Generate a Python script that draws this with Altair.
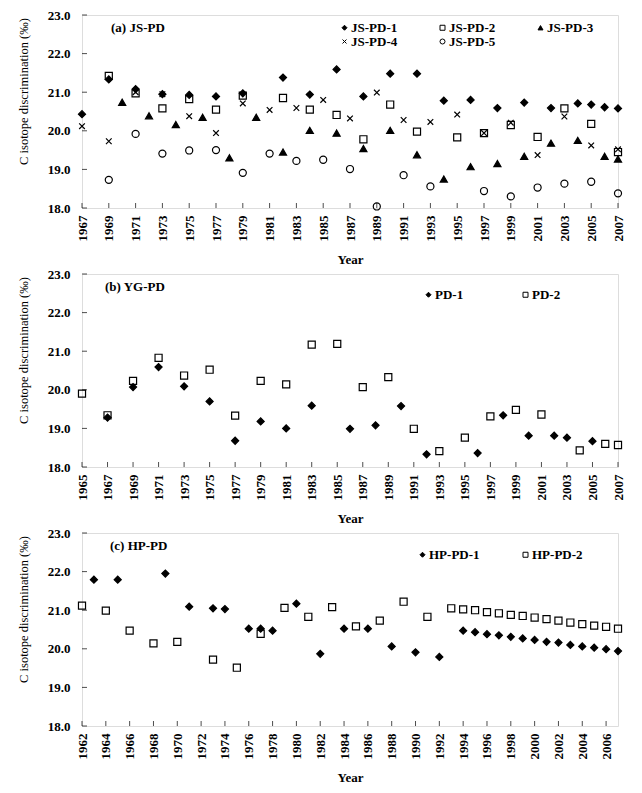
import altair as alt
import pandas as pd

# ---------------- Panel (a) JS-PD ----------------
js1_years = [1967, 1969, 1971, 1973, 1975, 1977, 1979, 1982, 1984, 1986, 1988, 1990, 1992, 1994, 1996, 1998, 2000, 2002, 2004, 2005, 2006, 2007]
js1_vals = [20.43, 21.33, 21.08, 20.95, 20.93, 20.89, 20.97, 21.38, 20.94, 21.59, 20.89, 21.48, 21.48, 20.78, 20.80, 20.59, 20.73, 20.59, 20.71, 20.68, 20.61, 20.58]
js2_years = [1969, 1971, 1973, 1975, 1977, 1979, 1982, 1984, 1986, 1988, 1990, 1992, 1995, 1997, 1999, 2001, 2003, 2005, 2007]
js2_vals = [21.42, 20.97, 20.58, 20.82, 20.55, 20.91, 20.85, 20.55, 20.41, 19.78, 20.68, 19.98, 19.83, 19.94, 20.15, 19.84, 20.58, 20.18, 19.45]
js3_years = [1970, 1972, 1974, 1976, 1978, 1980, 1982, 1984, 1986, 1988, 1990, 1992, 1994, 1996, 1998, 2000, 2002, 2004, 2006, 2007]
js3_vals = [20.74, 20.39, 20.16, 20.35, 19.30, 20.35, 19.45, 20.01, 19.94, 19.54, 20.01, 19.38, 18.75, 19.07, 19.15, 19.34, 19.68, 19.75, 19.34, 19.27]
js4_years = [1967, 1969, 1971, 1973, 1975, 1977, 1979, 1981, 1983, 1985, 1987, 1989, 1991, 1993, 1995, 1997, 1999, 2001, 2003, 2005, 2007]
js4_vals = [20.12, 19.73, 21.00, 20.95, 20.38, 19.94, 20.71, 20.54, 20.59, 20.80, 20.32, 20.99, 20.28, 20.23, 20.42, 19.94, 20.21, 19.37, 20.37, 19.62, 19.52]
js5_years = [1969, 1971, 1973, 1975, 1977, 1979, 1981, 1983, 1985, 1987, 1989, 1991, 1993, 1997, 1999, 2001, 2003, 2005, 2007]
js5_vals = [18.73, 19.92, 19.41, 19.49, 19.50, 18.91, 19.41, 19.22, 19.25, 19.01, 18.04, 18.85, 18.56, 18.44, 18.30, 18.53, 18.63, 18.68, 18.38]

# ---------------- Panel (b) YG-PD ----------------
pd1_years = [1967, 1969, 1971, 1973, 1975, 1977, 1979, 1981, 1983, 1986, 1988, 1990, 1992, 1996, 1998, 2000, 2002, 2003, 2005]
pd1_vals = [19.28, 20.07, 20.59, 20.09, 19.70, 18.68, 19.18, 19.00, 19.59, 18.99, 19.08, 19.58, 18.33, 18.36, 19.34, 18.81, 18.81, 18.76, 18.67]
pd2_years = [1965, 1967, 1969, 1971, 1973, 1975, 1977, 1979, 1981, 1983, 1985, 1987, 1989, 1991, 1993, 1995, 1997, 1999, 2001, 2004, 2006, 2007]
pd2_vals = [19.90, 19.34, 20.23, 20.83, 20.37, 20.52, 19.33, 20.23, 20.14, 21.17, 21.19, 20.07, 20.33, 18.99, 18.41, 18.76, 19.31, 19.48, 19.36, 18.43, 18.60, 18.57]

# ---------------- Panel (c) HP-PD ----------------
hp1_years = [1963, 1965, 1969, 1971, 1973, 1974, 1976, 1977, 1978, 1980, 1982, 1984, 1986, 1988, 1990, 1992,
             1994, 1995, 1996, 1997, 1998, 1999, 2000, 2001, 2002, 2003, 2004, 2005, 2006, 2007]
hp1_vals = [21.79, 21.79, 21.95, 21.09, 21.05, 21.03, 20.52, 20.52, 20.47, 21.17, 19.87, 20.52, 20.52, 20.06, 19.91, 19.79,
            20.47, 20.43, 20.38, 20.35, 20.31, 20.27, 20.23, 20.18, 20.16, 20.10, 20.06, 20.03, 19.99, 19.94]
hp2_years = [1962, 1964, 1966, 1968, 1970, 1973, 1975, 1977, 1979, 1981, 1983, 1985, 1987, 1989, 1991,
             1993, 1994, 1995, 1996, 1997, 1998, 1999, 2000, 2001, 2002, 2003, 2004, 2005, 2006, 2007]
hp2_vals = [21.12, 20.99, 20.47, 20.14, 20.18, 19.72, 19.51, 20.39, 21.06, 20.83, 21.08, 20.58, 20.73, 21.22, 20.83,
            21.05, 21.02, 21.00, 20.95, 20.92, 20.88, 20.85, 20.81, 20.77, 20.73, 20.68, 20.64, 20.60, 20.57, 20.52]

y_ticks = [18, 19, 20, 21, 22, 23]
xticks_a = list(range(1967, 2008, 2))
xticks_b = list(range(1965, 2008, 2))
xticks_c = list(range(1962, 2007, 2))

FONT = "Liberation Serif"
W, H = 536, 193
XSHAPE = "M-0.8,-0.8L0.8,0.8M-0.8,0.8L0.8,-0.8"


def long_df(series):
    rows = []
    for name, ys, vs in series:
        for y, v in zip(ys, vs):
            rows.append({"series": name, "year": y, "value": v})
    return pd.DataFrame(rows)


def panel(series, shapes, fills, xdomain, xticks, label, label_x, leg_x, leg_y, leg_cols, col_pad):
    df = long_df(series)
    names = [s[0] for s in series]
    xenc = alt.X("year:Q",
                 scale=alt.Scale(domain=xdomain, nice=False, zero=False),
                 axis=alt.Axis(values=xticks, format="d", labelAngle=270, labelAlign="right",
                               labelBaseline="middle", title="Year", tickSize=0, domain=False,
                               grid=False, labelPadding=7, titlePadding=12,
                               labelFont=FONT, labelFontSize=13, labelFontWeight="bold", labelColor="black",
                               titleFont=FONT, titleFontSize=13, titleFontWeight="bold", titleColor="black"))
    yenc = alt.Y("value:Q",
                 scale=alt.Scale(domain=[18, 23], nice=False, zero=False),
                 axis=alt.Axis(values=y_ticks, format=".1f", title="C isotope discrimination (‰)",
                               tickSize=0, domain=False, grid=False, labelPadding=12,
                               titleX=-52, titleY=76,
                               labelFont=FONT, labelFontSize=13, labelFontWeight="bold", labelColor="black",
                               titleFont=FONT, titleFontSize=12.5, titleFontWeight="normal", titleColor="black"))
    leg = alt.Legend(orient="none", legendX=leg_x, legendY=leg_y, columns=leg_cols,
                     direction="horizontal", title=None, symbolSize=25,
                     symbolStrokeColor="black", symbolStrokeWidth=1,
                     labelFont=FONT, labelFontSize=13, labelFontWeight="bold", labelColor="black",
                     columnPadding=col_pad, rowPadding=0, symbolOffset=0, labelOffset=0)
    pts = alt.Chart(df).mark_point(filled=True, size=50, strokeWidth=1.2, opacity=1).encode(
        x=xenc, y=yenc,
        shape=alt.Shape("series:N", scale=alt.Scale(domain=names, range=shapes), legend=leg),
        fill=alt.Fill("series:N", scale=alt.Scale(domain=names, range=fills), legend=leg),
        stroke=alt.Stroke("series:N", scale=alt.Scale(domain=names, range=["black"] * len(names)), legend=leg),
    )
    xt = alt.Chart(pd.DataFrame({"year": xticks})).mark_tick(
        color="black", thickness=1, size=5, orient="vertical").encode(x=xenc, y=alt.value(H - 2.5))
    yt = alt.Chart(pd.DataFrame({"value": y_ticks})).mark_tick(
        color="black", thickness=1, size=5, orient="horizontal").encode(y=yenc, x=alt.value(2.5))
    txt = alt.Chart(pd.DataFrame({"t": [label]})).mark_text(
        align="left", baseline="middle", font=FONT, fontSize=13, fontWeight="bold", color="black"
    ).encode(text="t:N", x=alt.value(label_x), y=alt.value(13))
    return alt.layer(pts, xt, yt, txt).properties(width=W, height=H)


pa = panel(
    [("JS-PD-1", js1_years, js1_vals), ("JS-PD-2", js2_years, js2_vals), ("JS-PD-3", js3_years, js3_vals),
     ("JS-PD-4", js4_years, js4_vals), ("JS-PD-5", js5_years, js5_vals)],
    ["diamond", "square", "triangle-up", XSHAPE, "circle"],
    ["black", "transparent", "black", "transparent", "transparent"],
    [1967, 2007], xticks_a, "(a) JS-PD", 29, 256, 6, 3, 38)

pb = panel(
    [("PD-1", pd1_years, pd1_vals), ("PD-2", pd2_years, pd2_vals)],
    ["diamond", "square"], ["black", "transparent"],
    [1965, 2007], xticks_b, "(b) YG-PD", 23, 340, 14, 2, 55)

pc = panel(
    [("HP-PD-1", hp1_years, hp1_vals), ("HP-PD-2", hp2_years, hp2_vals)],
    ["diamond", "square"], ["black", "transparent"],
    [1962, 2007], xticks_c, "(c) HP-PD", 28, 334, 15, 2, 39)

chart = alt.vconcat(pa, pb, pc, spacing=0).resolve_scale(
    x="independent", y="independent", shape="independent", fill="independent", stroke="independent"
).resolve_legend(shape="independent", fill="independent", stroke="independent").properties(
    padding={"left": 8, "top": 0, "right": 5, "bottom": 5}
).configure_view(stroke="black", strokeWidth=1.5).configure(background="white")

chart.save("out.html", embed_options={"renderer": "svg", "actions": False})
